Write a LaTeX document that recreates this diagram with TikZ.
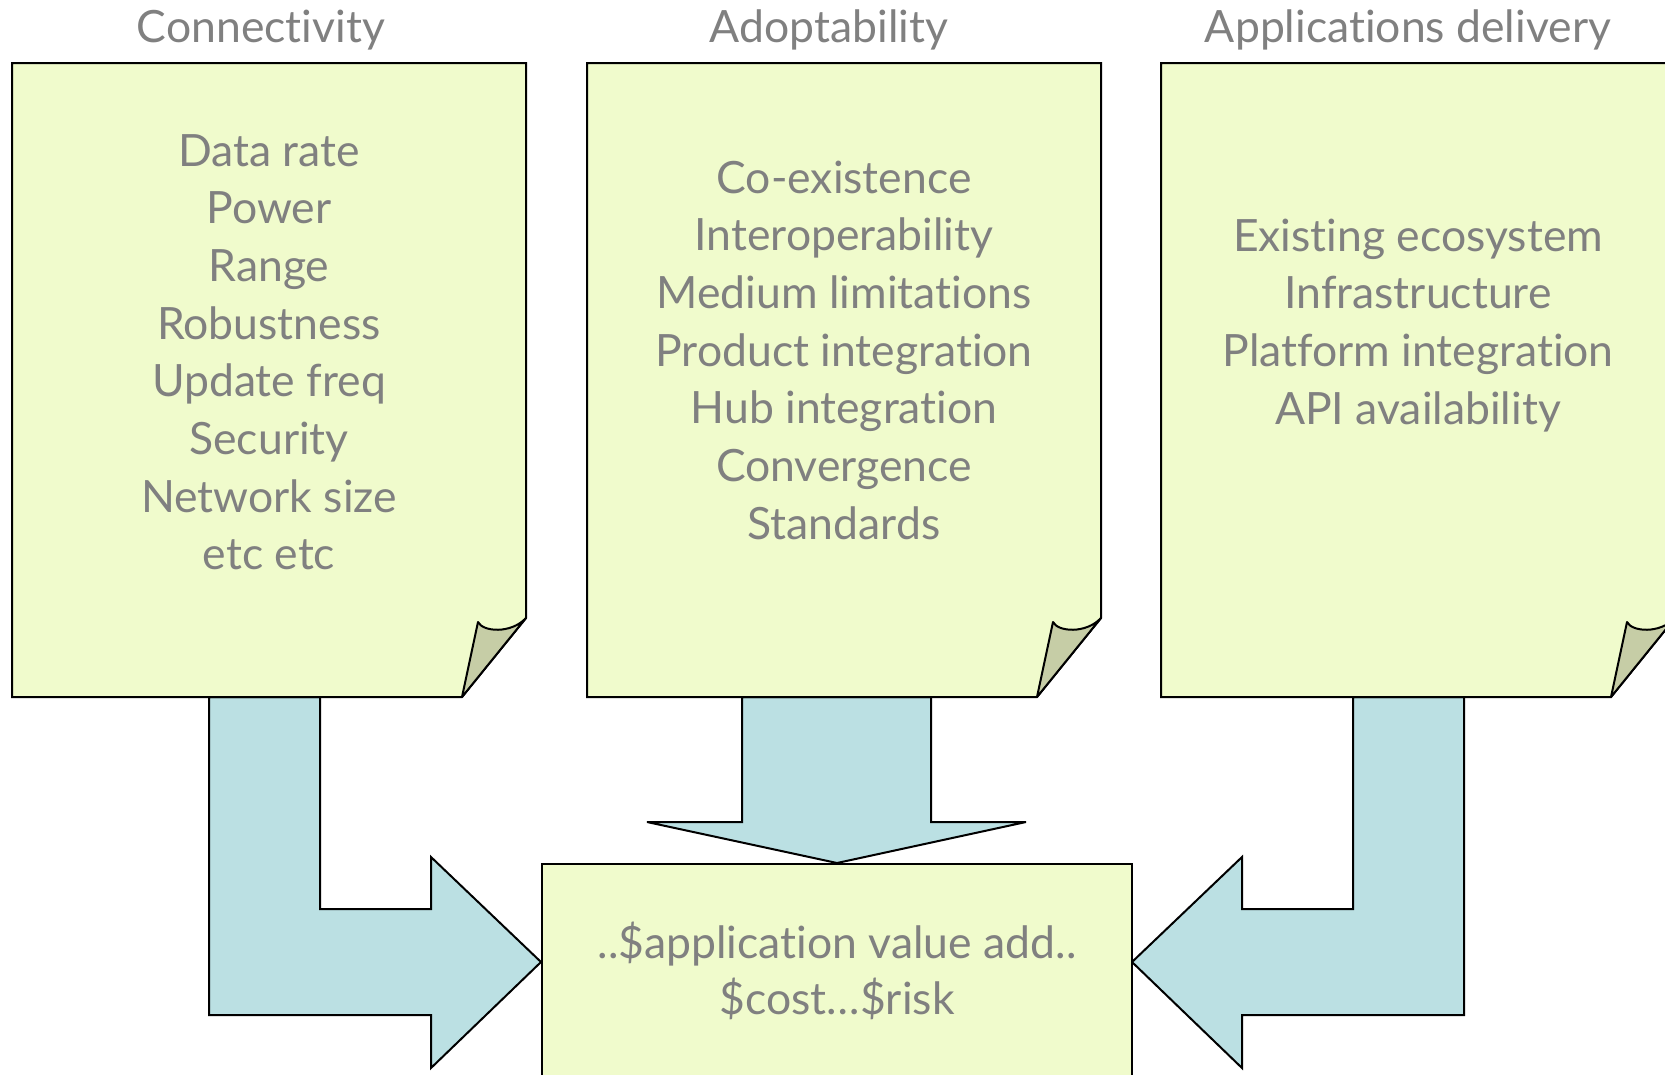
\documentclass[tikz,border=0pt]{standalone}
\usepackage{fontspec}
\setmainfont{Lato}[Ligatures=NoCommon]
\definecolor{paper}{RGB}{240,251,204}
\definecolor{flap}{RGB}{198,205,166}
\definecolor{arrowfill}{RGB}{187,224,227}
\definecolor{txt}{RGB}{128,128,128}
\begin{document}
\begin{tikzpicture}[x=1pt,y=-1pt,
  outline/.style={draw=black,line width=2pt,line join=miter,miter limit=3},
  papershape/.style={outline,fill=paper},
  flapshape/.style={outline,fill=flap,line join=round},
  blockarrow/.style={outline,fill=arrowfill},
  title/.style={text=txt,font=\fontsize{44.5}{50}\selectfont,inner sep=0pt,anchor=base},
  body/.style={text=txt,font=\fontsize{44.5}{50}\selectfont,inner sep=0pt,anchor=base}]
\useasboundingbox (0,0) rectangle (1665,1074);
\fill[white] (0,0) rectangle (1665,1074);
\clip (0,0) rectangle (1665,1074);

% block arrows
\draw[blockarrow] (209,697) -- (320,697) -- (320,909) -- (431,909) -- (431,857) -- (541,962)
  -- (431,1068) -- (431,1015) -- (209,1015) -- cycle;
\draw[blockarrow] (742,697) -- (931,697) -- (931,822) -- (1026,822) -- (837,863) -- (647,822)
  -- (742,822) -- cycle;
\draw[blockarrow] (1464,697) -- (1353,697) -- (1353,909) -- (1242,909) -- (1242,857) -- (1132,962)
  -- (1242,1068) -- (1242,1015) -- (1464,1015) -- cycle;

% folded papers
\foreach \L in {12,587,1161}{
  \pgfmathsetmacro{\R}{\L+514}
  \draw[papershape] (\L,63) -- (\R,63) -- (\R,618) -- (\R-64,697) -- (\L,697) -- cycle;
  \draw[flapshape] (\R-48,622) .. controls (\R-43,632) and (\R-15,634) .. (\R,618)
     -- (\R-64,697) -- cycle;
}

% result box
\draw[papershape] (542,864) rectangle (1132,1100);

% titles
\node[title] (t1) at (261,42) {Connectivity};
\node[title] (t2) at (829,42) {Adoptability};
\node[title] (t3) at (1408,42) {Applications delivery};

% texts
\foreach \t [count=\i] in {Data rate,Power,Range,Robustness,Update freq,Security,Network size,etc etc}
  \node[body] (a\i) at (269,{166+57.7*(\i-1)}) {\t};
\foreach \t [count=\i] in {Co-existence,Interoperability,Medium limitations,Product integration,Hub integration,Convergence,Standards}
  \node[body] (b\i) at (844,{193+57.7*(\i-1)}) {\t};
\foreach \t [count=\i] in {Existing ecosystem,Infrastructure,Platform integration,API availability}
  \node[body] (c\i) at (1418,{251+57.7*(\i-1)}) {\t};
\node[body] (r1) at (837,958) {..\$application value add..};
\node[body] (r2) at (837,1014) {\$cost\ldots\$risk};
\end{tikzpicture}
\end{document}
